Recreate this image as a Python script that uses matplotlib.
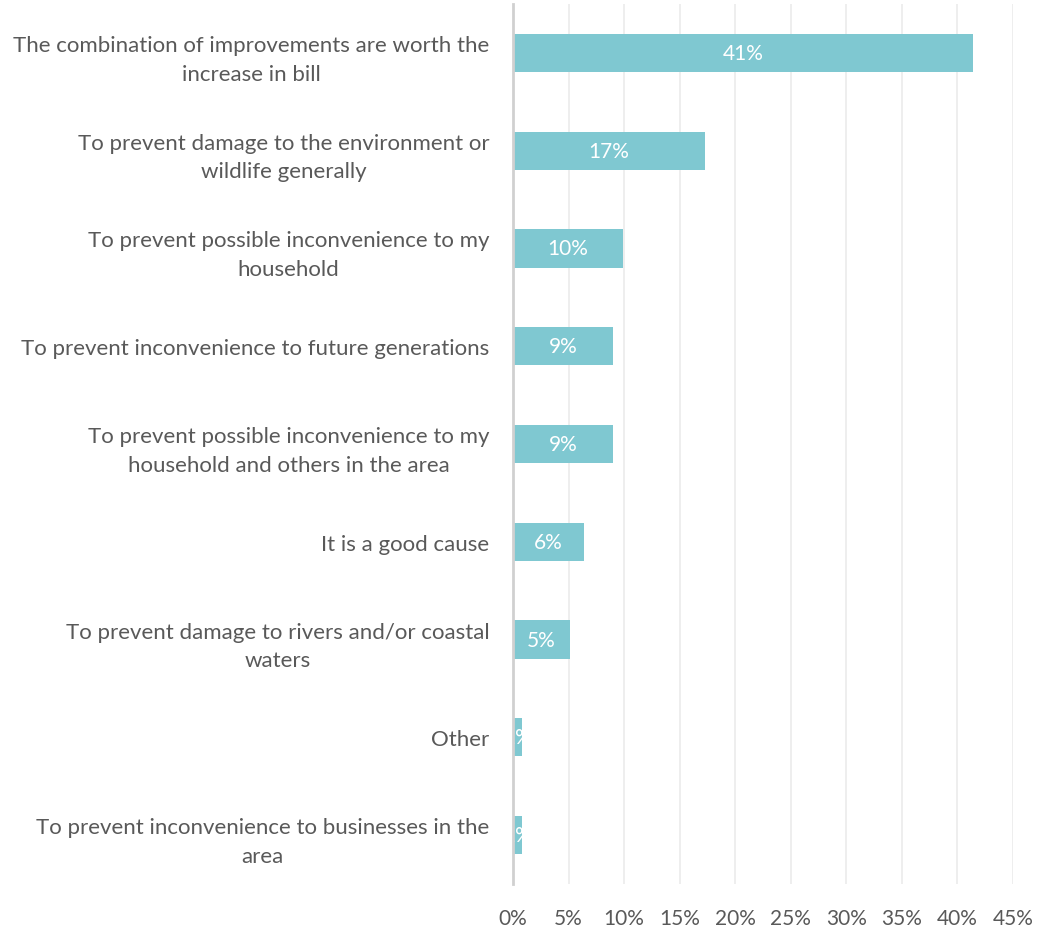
import matplotlib.pyplot as plt
from matplotlib.ticker import FuncFormatter

# reasons for accepting the bill increase, share of respondents (%)
categories = [
    "The combination of improvements are worth the\nincrease in bill",
    "To prevent damage to the environment or\nwildlife generally",
    "To prevent possible inconvenience to my\nhousehold",
    "To prevent inconvenience to future generations",
    "To prevent possible inconvenience to my\nhousehold and others in the area",
    "It is a good cause",
    "To prevent damage to rivers and/or coastal\nwaters",
    "Other",
    "To prevent inconvenience to businesses in the\narea",
]
values = [41.4, 17.3, 9.9, 9.0, 9.0, 6.4, 5.1, 0.8, 0.8]

bar_col = "#7FC8D1"
txt_col = "#595959"

plt.rcParams['font.family'] = ['Lato', 'DejaVu Sans']

fig = plt.figure(figsize=(10.37, 9.28), dpi=100)
ax = fig.add_axes([513/1037, 43/928, 500/1037, 880/928])

pos = list(range(len(categories)))
bars = ax.barh(pos, values, height=0.39, color=bar_col, zorder=3)

for b, v in zip(bars, values):
    ax.text(b.get_width()/2, b.get_y() + b.get_height()/2, f"{v:.0f}%",
            ha='center', va='center', color='white', fontsize=15,
            zorder=4, clip_on=True)

ax.set_ylim(len(categories) - 0.5, -0.5)
ax.set_xlim(0, 45)
ax.set_xticks(range(0, 46, 5))
ax.xaxis.set_major_formatter(FuncFormatter(lambda x, p: f"{x:.0f}%"))
ax.set_yticks(pos)
ax.set_yticklabels(categories, fontsize=16, color=txt_col, linespacing=1.55,
                   multialignment='center')

ax.grid(axis='x', color='#EBEBEB', linewidth=1.2, zorder=0)
for s in ['top', 'right', 'bottom']:
    ax.spines[s].set_visible(False)
ax.spines['left'].set_color('#D0D0D0')
ax.spines['left'].set_linewidth(2)
ax.spines['left'].set_zorder(5)

ax.tick_params(axis='y', length=0, pad=17)
ax.tick_params(axis='x', length=0, pad=17, labelsize=15, labelcolor=txt_col)

fig.savefig("out.png", dpi=100)
